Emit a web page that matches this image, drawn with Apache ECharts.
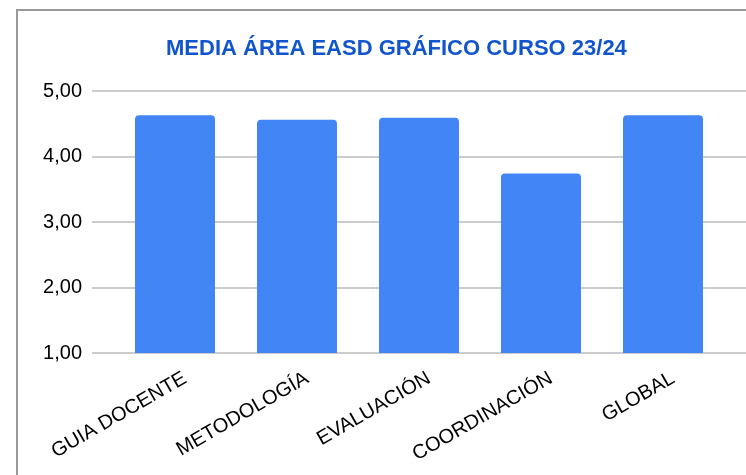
<!DOCTYPE html>
<html>
<head>
<meta charset="utf-8">
<script src="https://cdn.jsdelivr.net/npm/echarts@6/dist/echarts.min.js"></script>
<style>
html,body{margin:0;padding:0;background:#fff;overflow:hidden;width:746px;height:475px;}
#wrap{position:relative;width:746px;height:475px;overflow:hidden;}
#c{position:absolute;left:0;top:0;width:746px;height:475px;}
#frame{position:absolute;left:16px;top:9px;width:900px;height:700px;border-top:2px solid #999;border-left:2px solid #999;pointer-events:none;}
</style>
</head>
<body>
<div id="wrap"><div id="c"></div><div id="frame"></div></div>
<script>
const titleText = 'MEDIA ÁREA EASD GRÁFICO CURSO 23/24';
const categories = ['GUIA DOCENTE', 'METODOLOGÍA', 'EVALUACIÓN', 'COORDINACIÓN', 'GLOBAL'];
const values = [4.63, 4.56, 4.59, 3.74, 4.63];
const yMin = 1, yMax = 5, yInterval = 1;

const chart = echarts.init(document.getElementById('c'), null, {renderer: 'canvas'});
const font = 'Liberation Sans, Arial, sans-serif';
chart.setOption({
  animation: false,
  backgroundColor: '#fff',
  title: {
    text: titleText,
    left: 161,
    top: 33,
    textStyle: {fontFamily: font, fontWeight: 'bold', fontSize: 22, color: '#1155cc'}
  },
  grid: [
    {left: 92, right: 0, top: 91, bottom: 122},
    {left: 114, right: 22, top: 91, bottom: 122},
    {left: 124, right: 12, top: 91, bottom: 122}
  ],
  xAxis: [
    {gridIndex: 0, type: 'category', data: categories, show: false},
    {gridIndex: 1, type: 'category', data: categories, show: false},
    {gridIndex: 2, type: 'category', data: categories,
      axisLine: {show: false}, axisTick: {show: false},
      axisLabel: {rotate: 30, margin: 24, fontFamily: font, fontSize: 20, color: '#000', interval: 0}
    }
  ],
  yAxis: [
    {gridIndex: 0, type: 'value', min: yMin, max: yMax, interval: yInterval,
      axisLine: {show: false}, axisTick: {show: false},
      axisLabel: {margin: 10, fontFamily: font, fontSize: 20, color: '#000',
        formatter: v => v.toFixed(2).replace('.', ',')},
      splitLine: {lineStyle: {color: '#cccccc', width: 2}}
    },
    {gridIndex: 1, type: 'value', min: yMin, max: yMax, interval: yInterval, show: false,
      splitLine: {show: false}},
    {gridIndex: 2, type: 'value', min: yMin, max: yMax, interval: yInterval, show: false,
      splitLine: {show: false}}
  ],
  series: [{
    type: 'bar',
    xAxisIndex: 1, yAxisIndex: 1,
    data: values,
    barWidth: 80,
    itemStyle: {color: '#4285f4', borderRadius: [4, 4, 0, 0]}
  }]
});
</script>
</body>
</html>
